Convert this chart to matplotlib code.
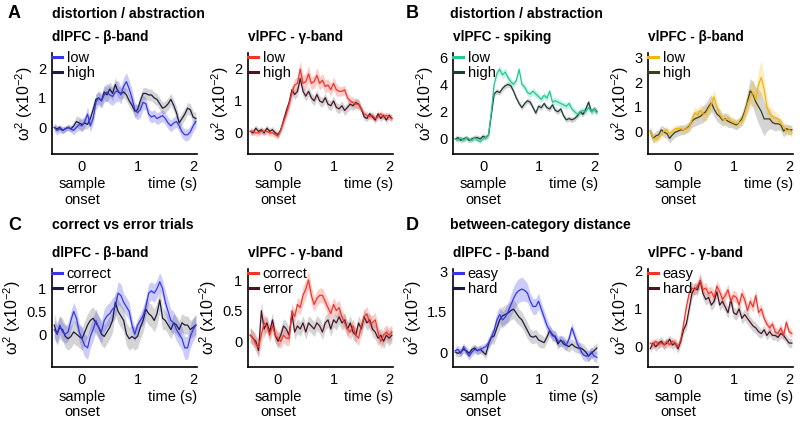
import numpy as np
import matplotlib
matplotlib.use("Agg")
import matplotlib.pyplot as plt
from matplotlib.transforms import blended_transform_factory

plt.rcParams["font.family"] = ["Liberation Sans", "DejaVu Sans"]
plt.rcParams["mathtext.fontset"] = "custom"
plt.rcParams["mathtext.rm"] = "Liberation Sans"
plt.rcParams["mathtext.it"] = "Liberation Sans:italic"

# time bins (s), 50 ms steps from -0.5 to 2.05
t = np.round(np.arange(-0.5, 2.051, 0.05), 2)

# ---- A: distortion / abstraction, dlPFC beta ----
a1_low = [0.0, -0.1, -0.05, -0.1, -0.05, 0.0, -0.05, -0.1, 0.0, 0.1,
          0.05, 0.2, 0.45, 0.05, 0.3, 0.85, 1.0, 0.9, 1.1, 1.2,
          1.1, 1.05, 1.2, 1.25, 1.1, 1.4, 1.55, 1.3, 1.0, 0.6,
          0.5, 0.6, 0.85, 0.8, 0.45, 0.35, 0.4, 0.3, 0.35, 0.4,
          0.3, 0.15, 0.05, 0.15, 0.2, 0.05, -0.15, -0.25, -0.25, -0.15,
          0.05, 0.2]
a1_low_sem = [0.15, 0.15, 0.12, 0.12, 0.1, 0.1, 0.12, 0.15, 0.15, 0.2,
              0.2, 0.2, 0.25, 0.2, 0.2, 0.25, 0.25, 0.25, 0.25, 0.3,
              0.3, 0.3, 0.35, 0.35, 0.3, 0.3, 0.3, 0.3, 0.3, 0.25,
              0.25, 0.25, 0.25, 0.2, 0.2, 0.2, 0.2, 0.2, 0.2, 0.2,
              0.2, 0.2, 0.2, 0.2, 0.2, 0.2, 0.2, 0.2, 0.2, 0.2,
              0.2, 0.2]
a1_high = [0.0, -0.05, 0.0, -0.1, -0.05, 0.0, -0.05, 0.05, 0.2, 0.15,
           0.1, 0.15, 0.1, 0.3, 0.6, 0.95, 1.0, 0.9, 1.2, 1.1,
           1.3, 1.15, 1.45, 1.2, 1.15, 1.2, 1.1, 0.9, 0.75, 0.55,
           0.6, 0.9, 1.15, 1.15, 1.1, 1.1, 1.0, 0.95, 0.8, 0.65,
           0.7, 0.8, 0.95, 0.75, 0.5, 0.15, 0.3, 0.45, 0.65, 0.6,
           0.35, 0.3]
a1_high_sem = [0.1, 0.1, 0.1, 0.1, 0.1, 0.1, 0.1, 0.15, 0.2, 0.2,
               0.2, 0.2, 0.15, 0.2, 0.2, 0.2, 0.2, 0.2, 0.25, 0.25,
               0.25, 0.25, 0.25, 0.2, 0.2, 0.2, 0.2, 0.2, 0.2, 0.2,
               0.2, 0.2, 0.2, 0.2, 0.2, 0.2, 0.2, 0.2, 0.2, 0.2,
               0.2, 0.2, 0.2, 0.2, 0.2, 0.2, 0.2, 0.2, 0.2, 0.2,
               0.2, 0.2]

# ---- A: vlPFC gamma ----
a2_low = [0.05, 0.05, 0.0, 0.0, 0.05, 0.05, 0.05, 0.0, 0.0, -0.05,
          -0.1, 0.1, 0.35, 0.6, 0.9, 1.25, 1.5, 1.55, 2.0, 1.55,
          1.6, 1.85, 1.55, 1.6, 1.8, 1.55, 1.65, 1.45, 1.5, 1.35,
          1.55, 1.35, 1.3, 1.3, 1.35, 1.1, 1.0, 0.95, 0.9, 0.9,
          0.75, 0.6, 0.55, 0.5, 0.55, 0.45, 0.5, 0.6, 0.5, 0.55,
          0.5, 0.45]
a2_low_sem = [0.1, 0.1, 0.1, 0.1, 0.1, 0.1, 0.1, 0.1, 0.1, 0.1,
              0.1, 0.1, 0.15, 0.15, 0.2, 0.2, 0.2, 0.2, 0.25, 0.25,
              0.25, 0.25, 0.2, 0.2, 0.25, 0.2, 0.2, 0.2, 0.2, 0.2,
              0.2, 0.2, 0.15, 0.15, 0.15, 0.15, 0.15, 0.15, 0.15, 0.15,
              0.1, 0.1, 0.1, 0.1, 0.1, 0.1, 0.1, 0.1, 0.1, 0.1,
              0.1, 0.1]
a2_high = [0.05, 0.0, 0.15, 0.05, 0.1, 0.0, 0.15, 0.05, 0.1, 0.0,
           -0.05, 0.1, 0.4, 0.7, 0.95, 1.35, 1.2, 1.3, 1.7, 1.3,
           1.15, 1.3, 1.1, 1.0, 1.2, 1.0, 0.95, 1.1, 0.9, 0.85,
           1.0, 0.8, 0.75, 0.85, 0.7, 0.8, 0.9, 0.85, 0.95, 0.9,
           0.75, 0.5, 0.45, 0.6, 0.5, 0.4, 0.6, 0.45, 0.55, 0.4,
           0.55, 0.45]
a2_high_sem = [0.1, 0.1, 0.1, 0.1, 0.1, 0.1, 0.1, 0.1, 0.1, 0.1,
               0.1, 0.1, 0.1, 0.15, 0.15, 0.15, 0.15, 0.15, 0.15, 0.15,
               0.15, 0.15, 0.15, 0.15, 0.15, 0.15, 0.15, 0.15, 0.15, 0.15,
               0.15, 0.15, 0.15, 0.15, 0.15, 0.15, 0.15, 0.15, 0.15, 0.15,
               0.1, 0.1, 0.1, 0.1, 0.1, 0.1, 0.1, 0.1, 0.1, 0.1,
               0.1, 0.1]

# ---- B: vlPFC spiking ----
b1_low = [0.0, -0.1, 0.1, -0.1, 0.1, 0.0, -0.1, 0.1, -0.1, -0.2,
          0.0, 0.1, 0.3, 2.0, 4.0, 4.8, 5.1, 4.7, 4.9, 4.5,
          4.2, 4.0, 4.3, 5.1, 4.0, 3.8, 3.4, 3.3, 3.5, 3.3,
          3.1, 2.9, 3.2, 3.0, 3.5, 2.7, 2.8, 2.7, 2.6, 2.5,
          2.4, 2.6, 2.2, 2.0, 1.8, 2.0, 2.1, 2.0, 2.3, 2.0,
          2.2, 1.9]
b1_low_sem = [0.15, 0.15, 0.15, 0.15, 0.15, 0.15, 0.15, 0.15, 0.15, 0.15,
              0.15, 0.15, 0.2, 0.25, 0.3, 0.3, 0.3, 0.3, 0.3, 0.3,
              0.25, 0.25, 0.25, 0.25, 0.25, 0.25, 0.25, 0.25, 0.25, 0.25,
              0.25, 0.25, 0.25, 0.25, 0.25, 0.25, 0.25, 0.25, 0.25, 0.25,
              0.25, 0.25, 0.25, 0.25, 0.25, 0.25, 0.25, 0.25, 0.25, 0.25,
              0.25, 0.25]
b1_high = [0.0, 0.1, -0.1, 0.0, 0.1, -0.1, 0.0, 0.1, 0.1, 0.0,
           0.2, 0.1, 0.3, 1.8, 3.3, 3.5, 3.4, 3.7, 3.9, 4.0,
           3.9, 3.5, 3.0, 2.6, 2.3, 2.6, 2.8, 2.7, 2.3, 1.9,
           2.4, 2.3, 2.6, 2.3, 2.2, 2.5, 2.1, 2.0, 2.2, 1.7,
           1.4, 1.5, 1.4, 1.5, 1.7, 2.0, 1.8, 2.2, 2.7, 2.0,
           2.2, 2.0]
b1_high_sem = [0.2, 0.2, 0.2, 0.2, 0.2, 0.2, 0.2, 0.2, 0.2, 0.2,
               0.2, 0.2, 0.2, 0.2, 0.2, 0.2, 0.2, 0.2, 0.2, 0.2,
               0.2, 0.2, 0.2, 0.2, 0.2, 0.2, 0.2, 0.2, 0.2, 0.2,
               0.2, 0.2, 0.2, 0.2, 0.2, 0.2, 0.2, 0.2, 0.2, 0.2,
               0.2, 0.2, 0.2, 0.2, 0.2, 0.2, 0.2, 0.2, 0.2, 0.2,
               0.2, 0.2]

# ---- B: vlPFC beta ----
b2_low = [0.0, -0.3, -0.35, -0.25, -0.15, 0.0, 0.05, -0.1, 0.0, 0.1,
          0.1, 0.1, 0.05, 0.1, 0.15, 0.45, 0.75, 0.65, 0.85, 0.7,
          0.7, 0.9, 1.1, 1.4, 1.0, 0.7, 0.5, 0.45, 0.55, 0.4,
          0.35, 0.3, 0.35, 0.4, 0.7, 1.1, 1.4, 1.6, 1.3, 1.9,
          2.2, 1.7, 1.0, 0.7, 0.6, 0.55, 0.5, 0.3, 0.2, 0.0,
          0.05, -0.05]
b2_low_sem = [0.15, 0.15, 0.15, 0.15, 0.15, 0.15, 0.15, 0.15, 0.15, 0.15,
              0.15, 0.15, 0.15, 0.15, 0.2, 0.25, 0.25, 0.25, 0.25, 0.3,
              0.3, 0.3, 0.3, 0.3, 0.25, 0.2, 0.2, 0.2, 0.2, 0.2,
              0.2, 0.2, 0.2, 0.2, 0.3, 0.4, 0.5, 0.5, 0.5, 0.6,
              0.7, 0.5, 0.4, 0.3, 0.3, 0.25, 0.2, 0.2, 0.2, 0.2,
              0.2, 0.2]
b2_high = [0.0, -0.3, -0.2, -0.15, 0.05, -0.05, -0.1, -0.3, -0.15, -0.05,
           0.0, 0.05, 0.05, 0.1, 0.2, 0.4, 0.5, 0.55, 0.6, 0.7,
           0.8, 1.0, 1.15, 0.9, 0.7, 0.6, 0.45, 0.5, 0.4, 0.35,
           0.3, 0.25, 0.35, 0.5, 0.8, 1.2, 1.65, 1.5, 1.2, 1.0,
           0.8, 0.5, 0.5, 0.5, 0.35, 0.3, 0.3, 0.25, 0.0, 0.1,
           0.05, 0.05]
b2_high_sem = [0.2, 0.2, 0.2, 0.2, 0.2, 0.2, 0.2, 0.2, 0.2, 0.2,
               0.2, 0.2, 0.2, 0.2, 0.2, 0.25, 0.3, 0.3, 0.3, 0.35,
               0.35, 0.35, 0.35, 0.3, 0.3, 0.3, 0.25, 0.25, 0.25, 0.2,
               0.2, 0.2, 0.2, 0.25, 0.3, 0.4, 0.5, 0.55, 0.6, 0.7,
               0.75, 0.7, 0.5, 0.4, 0.3, 0.3, 0.25, 0.25, 0.25, 0.2,
               0.2, 0.2]

# ---- C: correct vs error, dlPFC beta ----
c1_cor = [0.1, 0.0, 0.2, 0.05, 0.0, 0.05, 0.3, 0.5, 0.35, 0.05,
          -0.1, -0.25, -0.3, -0.05, 0.1, 0.3, 0.15, 0.05, 0.3, 0.4,
          0.45, 0.55, 0.6, 0.9, 0.85, 0.7, 0.6, 0.5, 0.2, 0.0,
          0.2, 0.3, 0.4, 0.6, 0.9, 0.95, 0.9, 1.0, 1.15, 1.0,
          0.7, 0.5, 0.3, 0.25, 0.1, 0.0, -0.1, -0.3, -0.3, -0.05,
          0.1, 0.2]
c1_cor_sem = [0.2, 0.2, 0.2, 0.2, 0.2, 0.2, 0.2, 0.2, 0.2, 0.2,
              0.25, 0.25, 0.25, 0.25, 0.25, 0.25, 0.25, 0.25, 0.25, 0.25,
              0.25, 0.25, 0.25, 0.25, 0.25, 0.2, 0.2, 0.2, 0.15, 0.15,
              0.15, 0.15, 0.2, 0.2, 0.2, 0.2, 0.2, 0.2, 0.2, 0.2,
              0.25, 0.25, 0.25, 0.25, 0.25, 0.25, 0.25, 0.25, 0.25, 0.25,
              0.25, 0.25]
c1_err = [0.2, 0.0, 0.15, 0.1, -0.05, -0.1, -0.05, 0.05, 0.0, -0.05,
          -0.1, 0.05, 0.2, 0.3, 0.35, 0.25, 0.15, 0.0, -0.05, 0.05,
          0.15, 0.3, 0.7, 0.5, 0.4, 0.3, 0.0, -0.1, -0.05, -0.1,
          -0.05, 0.15, 0.3, 0.55, 0.45, 0.4, 0.3, 0.45, 0.75, 0.35,
          0.3, 0.2, 0.1, 0.25, 0.2, 0.1, 0.25, 0.2, 0.2, 0.1,
          0.15, 0.2]
c1_err_sem = [0.25, 0.25, 0.25, 0.25, 0.25, 0.25, 0.25, 0.25, 0.25, 0.25,
              0.25, 0.25, 0.25, 0.25, 0.25, 0.25, 0.25, 0.25, 0.25, 0.25,
              0.25, 0.25, 0.25, 0.25, 0.25, 0.25, 0.25, 0.25, 0.25, 0.25,
              0.25, 0.25, 0.25, 0.25, 0.25, 0.25, 0.25, 0.25, 0.25, 0.25,
              0.2, 0.2, 0.2, 0.2, 0.2, 0.2, 0.2, 0.2, 0.2, 0.2,
              0.2, 0.2]

# ---- C: vlPFC gamma ----
c2_cor = [0.1, 0.05, -0.05, -0.1, 0.1, 0.3, 0.25, 0.1, 0.25, 0.1,
          0.05, 0.0, 0.1, 0.05, 0.05, 0.5, 0.4, 0.6, 0.55, 0.75,
          0.85, 1.0, 0.75, 0.6, 0.7, 0.75, 0.75, 0.65, 0.55, 0.45,
          0.6, 0.5, 0.55, 0.4, 0.3, 0.2, 0.15, 0.25, 0.1, 0.05,
          0.25, 0.4, 0.45, 0.3, 0.3, 0.35, 0.15, 0.0, 0.1, 0.15,
          0.1, 0.15]
c2_cor_sem = [0.12, 0.12, 0.12, 0.15, 0.15, 0.15, 0.12, 0.12, 0.12, 0.12,
              0.12, 0.12, 0.12, 0.12, 0.12, 0.12, 0.12, 0.12, 0.12, 0.15,
              0.15, 0.15, 0.15, 0.12, 0.12, 0.12, 0.12, 0.12, 0.12, 0.12,
              0.12, 0.12, 0.12, 0.12, 0.12, 0.12, 0.12, 0.12, 0.12, 0.12,
              0.12, 0.12, 0.12, 0.12, 0.12, 0.12, 0.12, 0.12, 0.12, 0.12,
              0.12, 0.12]
c2_err = [0.1, 0.05, 0.0, -0.15, 0.5, 0.2, 0.3, 0.15, 0.35, 0.1,
          0.0, 0.1, 0.25, 0.2, 0.1, 0.45, 0.15, 0.25, 0.2, 0.3,
          0.15, 0.3, 0.25, 0.2, 0.3, 0.25, 0.15, 0.3, 0.35, 0.2,
          0.35, 0.3, 0.4, 0.3, 0.35, 0.2, 0.3, 0.15, 0.1, 0.3,
          0.2, 0.4, 0.3, 0.35, 0.2, 0.15, 0.05, 0.1, 0.0, 0.1,
          0.05, 0.1]
c2_err_sem = [0.12, 0.12, 0.12, 0.12, 0.15, 0.15, 0.12, 0.12, 0.12, 0.12,
              0.12, 0.12, 0.12, 0.12, 0.12, 0.12, 0.12, 0.12, 0.12, 0.12,
              0.12, 0.12, 0.12, 0.12, 0.12, 0.12, 0.12, 0.12, 0.12, 0.12,
              0.12, 0.12, 0.12, 0.12, 0.12, 0.12, 0.12, 0.12, 0.12, 0.12,
              0.12, 0.12, 0.12, 0.12, 0.12, 0.12, 0.12, 0.12, 0.12, 0.12,
              0.12, 0.12]

# ---- D: between-category distance, dlPFC beta ----
d1_easy = [0.05, 0.1, -0.05, 0.2, 0.0, -0.15, 0.0, 0.1, 0.05, 0.1,
           0.15, 0.2, 0.35, 0.55, 0.8, 1.2, 1.4, 1.2, 1.3, 1.5,
           1.75, 2.0, 2.2, 2.3, 2.35, 2.3, 2.2, 1.9, 1.7, 1.7,
           1.9, 1.6, 1.3, 1.0, 0.8, 0.6, 0.6, 0.4, 0.4, 0.4,
           0.25, 0.5, 0.9, 0.6, 0.3, 0.1, -0.1, -0.15, -0.15, 0.0,
           -0.15, -0.2]
d1_easy_sem = [0.15, 0.15, 0.15, 0.15, 0.15, 0.15, 0.15, 0.15, 0.15, 0.15,
               0.15, 0.15, 0.2, 0.2, 0.25, 0.3, 0.3, 0.3, 0.3, 0.35,
               0.4, 0.45, 0.45, 0.45, 0.45, 0.4, 0.35, 0.3, 0.3, 0.3,
               0.3, 0.25, 0.25, 0.25, 0.2, 0.2, 0.2, 0.2, 0.2, 0.2,
               0.2, 0.2, 0.2, 0.2, 0.2, 0.2, 0.2, 0.2, 0.2, 0.2,
               0.2, 0.2]
d1_hard = [0.0, -0.05, 0.0, 0.1, 0.05, -0.05, 0.1, 0.15, 0.05, 0.1,
           0.0, -0.1, 0.3, 0.55, 0.6, 0.9, 1.2, 1.35, 1.4, 1.45,
           1.55, 1.6, 1.45, 1.3, 1.2, 1.0, 0.8, 0.6, 0.55, 0.6,
           0.45, 0.4, 0.35, 0.55, 0.8, 0.65, 0.55, 0.3, 0.45, 0.3,
           0.25, 0.2, 0.3, 0.2, 0.15, 0.15, 0.1, 0.0, -0.15, -0.05,
           0.05, 0.15]
d1_hard_sem = [0.15, 0.15, 0.15, 0.15, 0.15, 0.15, 0.15, 0.15, 0.15, 0.15,
               0.15, 0.15, 0.2, 0.25, 0.3, 0.3, 0.35, 0.35, 0.35, 0.35,
               0.35, 0.35, 0.35, 0.3, 0.3, 0.3, 0.3, 0.25, 0.25, 0.25,
               0.25, 0.25, 0.2, 0.2, 0.2, 0.2, 0.2, 0.2, 0.2, 0.2,
               0.2, 0.2, 0.2, 0.2, 0.2, 0.2, 0.2, 0.2, 0.2, 0.2,
               0.2, 0.2]

# ---- D: vlPFC gamma ----
d2_easy = [0.1, 0.05, 0.15, 0.05, 0.1, 0.05, 0.15, 0.05, 0.15, 0.1,
           0.0, 0.2, 0.6, 1.05, 1.4, 1.55, 1.5, 1.6, 1.75, 1.5,
           1.55, 1.4, 1.45, 1.3, 1.6, 1.45, 1.25, 1.35, 1.5, 1.2,
           1.35, 1.3, 1.1, 1.4, 1.25, 0.95, 1.2, 1.05, 1.35, 0.9,
           1.0, 0.75, 0.6, 0.5, 0.6, 0.4, 0.35, 0.5, 0.3, 0.65,
           0.4, 0.35]
d2_easy_sem = [0.1, 0.1, 0.1, 0.1, 0.1, 0.1, 0.1, 0.1, 0.1, 0.1,
               0.1, 0.1, 0.12, 0.15, 0.15, 0.15, 0.15, 0.15, 0.2, 0.15,
               0.15, 0.15, 0.15, 0.15, 0.15, 0.15, 0.15, 0.15, 0.15, 0.15,
               0.15, 0.15, 0.15, 0.15, 0.15, 0.15, 0.15, 0.15, 0.15, 0.15,
               0.12, 0.12, 0.12, 0.12, 0.12, 0.12, 0.12, 0.12, 0.12, 0.12,
               0.12, 0.12]
d2_hard = [-0.05, 0.1, 0.0, 0.1, 0.15, 0.05, 0.1, 0.2, 0.05, 0.1,
           -0.05, 0.15, 0.45, 0.6, 1.0, 1.4, 1.55, 1.5, 1.75, 1.4,
           1.25, 1.3, 1.1, 1.2, 1.45, 1.1, 1.2, 1.05, 0.9, 1.25,
           0.9, 0.85, 1.0, 0.75, 0.85, 0.75, 0.65, 0.55, 0.5, 0.4,
           0.35, 0.45, 0.3, 0.4, 0.3, 0.3, 0.25, 0.35, 0.3, 0.2,
           0.1, 0.1]
d2_hard_sem = [0.12, 0.12, 0.12, 0.12, 0.12, 0.12, 0.12, 0.12, 0.12, 0.12,
               0.12, 0.12, 0.12, 0.15, 0.15, 0.15, 0.15, 0.15, 0.15, 0.15,
               0.15, 0.15, 0.15, 0.15, 0.15, 0.15, 0.15, 0.15, 0.15, 0.15,
               0.15, 0.15, 0.15, 0.15, 0.15, 0.15, 0.15, 0.15, 0.15, 0.15,
               0.12, 0.12, 0.12, 0.12, 0.12, 0.12, 0.12, 0.12, 0.12, 0.12,
               0.12, 0.12]

BLUE, NAVY = "#3636e8", "#1c1c3e"
RED, MAROON = "#f2352a", "#4a1424"
GREEN, DKGREEN = "#22c995", "#1e3c35"
YELLOW, OLIVE = "#f2b50a", "#3c3c1e"

panels = [
    dict(title="dlPFC - β-band", labels=("low", "high"), colors=(BLUE, NAVY),
         data=(a1_low, a1_low_sem, a1_high, a1_high_sem),
         ylim=(-0.9, 2.52), yticks=[0, 1, 2]),
    dict(title="vlPFC - γ-band", labels=("low", "high"), colors=(RED, MAROON),
         data=(a2_low, a2_low_sem, a2_high, a2_high_sem),
         ylim=(-0.66, 2.5), yticks=[0, 1, 2]),
    dict(title="vlPFC - spiking", labels=("low", "high"), colors=(GREEN, DKGREEN),
         data=(b1_low, b1_low_sem, b1_high, b1_high_sem),
         ylim=(-1.1, 6.3), yticks=[0, 2, 4, 6]),
    dict(title="vlPFC - β-band", labels=("low", "high"), colors=(YELLOW, OLIVE),
         data=(b2_low, b2_low_sem, b2_high, b2_high_sem),
         ylim=(-0.94, 3.2), yticks=[0, 1, 2, 3]),
    dict(title="dlPFC - β-band", labels=("correct", "error"), colors=(BLUE, NAVY),
         data=(c1_cor, c1_cor_sem, c1_err, c1_err_sem),
         ylim=(-0.72, 1.43), yticks=[0, 0.5, 1]),
    dict(title="vlPFC - γ-band", labels=("correct", "error"), colors=(RED, MAROON),
         data=(c2_cor, c2_cor_sem, c2_err, c2_err_sem),
         ylim=(-0.42, 1.18), yticks=[0, 0.5, 1]),
    dict(title="dlPFC - β-band", labels=("easy", "hard"), colors=(BLUE, NAVY),
         data=(d1_easy, d1_easy_sem, d1_hard, d1_hard_sem),
         ylim=(-0.56, 3.1), yticks=[0, 1.5, 3]),
    dict(title="vlPFC - γ-band", labels=("easy", "hard"), colors=(RED, MAROON),
         data=(d2_easy, d2_easy_sem, d2_hard, d2_hard_sem),
         ylim=(-0.53, 2.05), yticks=[0, 1, 2]),
]

W, H = 800, 425
col_left = [52, 248, 453, 648]
row_top = [53, 269]
row_bottom = [154, 367]
ax_w = 145

fig = plt.figure(figsize=(8, 4.25), dpi=100)

for i, p in enumerate(panels):
    r, c = divmod(i, 4)
    rect = [col_left[c] / W, 1 - row_bottom[r] / H, ax_w / W,
            (row_bottom[r] - row_top[r]) / H]
    ax = fig.add_axes(rect)
    m1, s1, m2, s2 = [np.array(v) for v in p["data"]]
    c1, c2 = p["colors"]
    ax.fill_between(t, m2 - s2, m2 + s2, color="#8f8f8f", alpha=0.38, lw=0)
    ax.fill_between(t, m1 - s1, m1 + s1, color=c1, alpha=0.25, lw=0)
    ax.plot(t, m2, color=c2, lw=0.9, label=p["labels"][1])
    ax.plot(t, m1, color=c1, lw=0.9, label=p["labels"][0])

    ax.set_xlim(-0.54, 2.07)
    ax.set_ylim(*p["ylim"])
    ax.set_xticks([0, 1, 2])
    ax.set_yticks(p["yticks"])
    ax.set_yticklabels(["%g" % v for v in p["yticks"]])
    ax.tick_params(length=0, labelsize=10.5, pad=4)
    for s in ("top", "right"):
        ax.spines[s].set_visible(False)
    for s in ("left", "bottom"):
        ax.spines[s].set_linewidth(1.2)
    ax.set_ylabel("ω$^2$ (x10$^{-2}$)", fontsize=11.5, labelpad=2)

    h, l = ax.get_legend_handles_labels()
    leg = ax.legend(h[::-1], l[::-1], loc="upper left", bbox_to_anchor=(0.0, 1.02),
                    frameon=False, fontsize=10.5, handlelength=0.7,
                    handletextpad=0.3, borderaxespad=0, borderpad=0,
                    labelspacing=0.1)
    for line in leg.get_lines():
        line.set_linewidth(2.2)

    trans = blended_transform_factory(ax.transData, ax.transAxes)
    ax.text(0, -0.23, "sample\nonset", transform=trans, ha="center", va="top",
            fontsize=10.5, linespacing=1.15)
    ax.text(1.0, -0.23, "time (s)", transform=ax.transAxes, ha="right", va="top",
            fontsize=10.5)
    ax.text(0, 1.16, p["title"], transform=ax.transAxes, ha="left", va="center",
            fontsize=9.8, fontweight="bold")

# panel letters and section headers
letters = ["A", "B", "C", "D"]
headers = ["distortion / abstraction", "distortion / abstraction",
           "correct vs error trials", "between-category distance"]
letter_pos = [(8, 14), (406, 14), (8, 225), (406, 225)]
header_pos = [(52, 14), (450, 14), (52, 225), (450, 225)]
for k in range(4):
    fig.text(letter_pos[k][0] / W, 1 - letter_pos[k][1] / H, letters[k],
             fontsize=13, fontweight="bold", va="center", ha="left")
    fig.text(header_pos[k][0] / W, 1 - header_pos[k][1] / H, headers[k],
             fontsize=10.2, fontweight="bold", va="center", ha="left")

fig.savefig("out.png", dpi=100)
